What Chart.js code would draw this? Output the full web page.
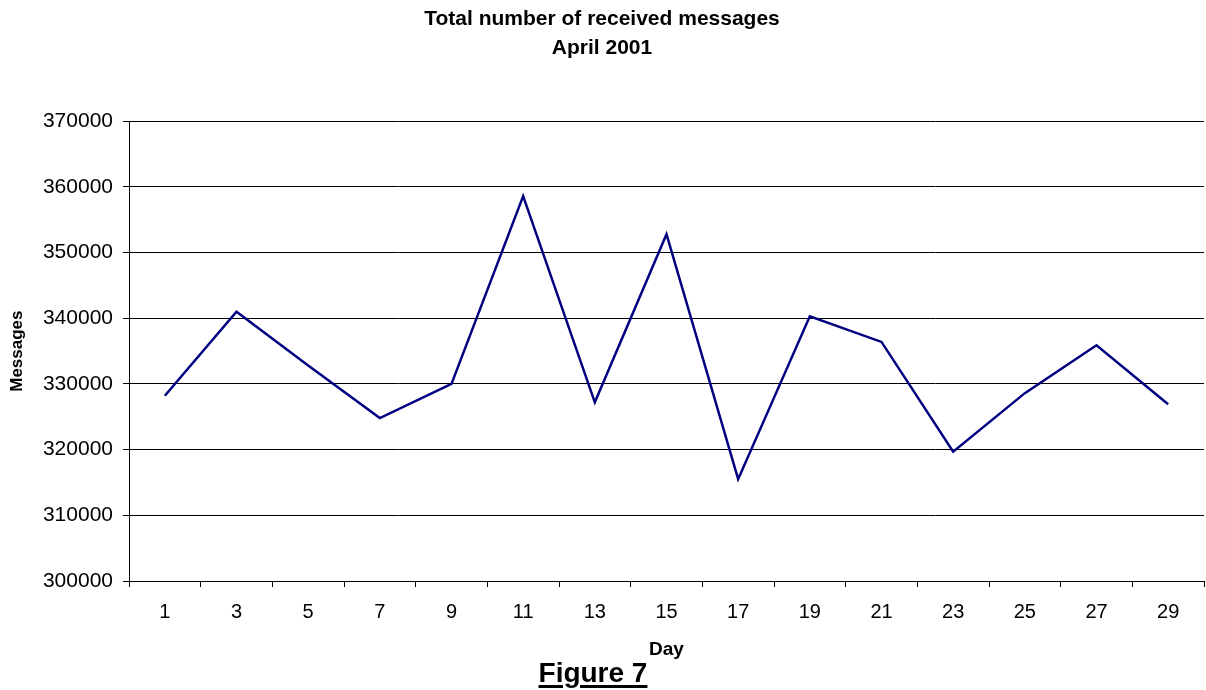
<!DOCTYPE html>
<html>
<head>
<meta charset="utf-8">
<title>Total number of received messages - April 2001</title>
<script src="https://cdn.jsdelivr.net/npm/chart.js@4/dist/chart.umd.min.js"></script>
<style>
  html, body { margin: 0; padding: 0; background: #fff; }
  #wrap { position: relative; width: 1206px; height: 690px; }
  #chart { display: block; }
  #figure {
    position: absolute; left: 0; width: 1186px; top: 659px;
    text-align: center;
    font: bold 28px "Liberation Sans", Arial, sans-serif;
    line-height: 28px; color: #000;
    text-decoration: underline; text-decoration-thickness: 3px; text-underline-offset: 3px;
  }
</style>
</head>
<body>
<div id="wrap">
  <canvas id="chart" width="1206" height="690"></canvas>
  <div id="figure">Figure 7</div>
</div>
<script>
// Days of April 2001 (every other day)
const days = ['1', '3', '5', '7', '9', '11', '13', '15', '17', '19', '21', '23', '25', '27', '29'];
// Total messages received on each of those days
const messages = [328200, 341000, 332800, 324800, 330000, 358600, 327200, 352800, 315500, 340300, 336400, 319700, 328600, 335900, 326900];
// Value-axis range
const yMin = 300000;
const yMax = 370000;
const yStep = 10000;

const FONT = '"Liberation Sans", Arial, sans-serif';

new Chart(document.getElementById('chart'), {
  type: 'line',
  data: {
    labels: days,
    datasets: [{
      label: 'Messages',
      data: messages,
      borderColor: '#000080',
      borderWidth: 2.5,
      pointRadius: 0,
      tension: 0,
      fill: false
    }]
  },
  options: {
    responsive: false,
    animation: false,
    layout: { padding: { left: 0, right: 2, top: 0, bottom: 0 } },
    plugins: {
      legend: { display: false },
      tooltip: { enabled: false },
      title: {
        display: true,
        text: ['Total number of received messages', 'April 2001'],
        color: '#000',
        font: { family: FONT, size: 21, weight: 'bold', lineHeight: 1.36 },
        padding: { top: 5.4, bottom: 58.7 }
      }
    },
    scales: {
      x: {
        type: 'category',
        offset: true,
        grid: {
          offset: true,
          drawOnChartArea: false,
          drawTicks: true,
          tickLength: 6,
          color: '#000'
        },
        border: { display: true, color: '#000', width: 1 },
        ticks: {
          color: '#000',
          padding: 13,
          maxRotation: 0,
          autoSkip: false,
          font: { family: FONT, size: 20 }
        },
        title: {
          display: true,
          text: 'Day',
          color: '#000',
          font: { family: FONT, size: 19, weight: 'bold', lineHeight: 1.2 },
          padding: { top: 0, bottom: 29 }
        },
        afterFit(scale) { scale.height = 109; }
      },
      y: {
        min: yMin,
        max: yMax,
        grid: {
          color: '#000',
          lineWidth: 1,
          drawTicks: true,
          tickLength: 6
        },
        border: { display: true, color: '#000', width: 1 },
        ticks: {
          stepSize: yStep,
          color: '#000',
          padding: 10,
          font: { family: FONT, size: 21 },
          callback: (v) => String(v)
        },
        title: {
          display: true,
          text: 'Messages',
          color: '#000',
          font: { family: FONT, size: 17, weight: 'bold', lineHeight: 1.2 },
          padding: { top: 7.5, bottom: 0 }
        },
        afterFit(scale) { scale.width = 129; }
      }
    }
  }
});
</script>
</body>
</html>
